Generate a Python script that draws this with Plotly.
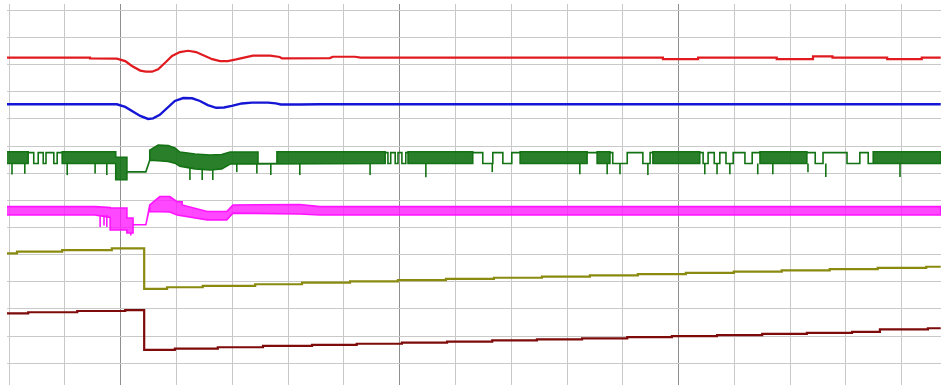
import plotly.graph_objects as go

# Time axis: one grid division per unit. Channel values are in grid divisions,
# measured from each channel's own resting level (positive = up).

# --- Channel 1 (red) ---
red_t = [-0.04, 1.45, 1.45, 1.93, 2.08, 2.20, 2.35, 2.45, 2.56, 2.67, 2.79, 2.92,
         3.06, 3.21, 3.35, 3.49, 3.64, 3.78, 3.92, 4.07, 4.23, 4.37, 4.68, 4.85,
         4.89, 5.57, 5.75, 5.80, 6.20, 6.30, 11.72, 11.72, 12.35, 12.35, 13.76,
         13.76, 14.41, 14.41, 14.76, 14.76, 15.74, 15.74, 16.36, 16.36, 16.70]
red_v = [0, 0, -0.03, -0.04, -0.13, -0.31, -0.48, -0.52, -0.52, -0.43, -0.20, 0.06,
         0.20, 0.25, 0.20, 0.07, -0.06, -0.13, -0.13, -0.07, 0.02, 0.07, 0.07, 0.02,
         -0.03, -0.02, -0.02, 0.03, 0.03, 0, 0, -0.06, -0.06, 0, 0,
         -0.06, -0.06, 0.04, 0.04, 0, 0, -0.06, -0.06, 0, 0]

# --- Channel 2 (blue) ---
blue_t = [-0.04, 1.93, 2.08, 2.20, 2.35, 2.49, 2.58, 2.70, 2.83, 2.97, 3.12, 3.28,
          3.42, 3.56, 3.71, 3.85, 3.99, 4.17, 4.35, 4.64, 4.78, 4.87, 5.21, 5.57, 16.70]
blue_v = [0, 0, -0.10, -0.25, -0.43, -0.54, -0.52, -0.39, -0.14, 0.12, 0.23, 0.22,
          0.12, -0.03, -0.13, -0.12, -0.06, 0.03, 0.06, 0.06, 0.03, -0.01, -0.01, 0, 0]

# --- Channel 3 (green): upper / lower envelope of the switching signal ---
green_t = [-0.04, 0.34, 0.34, 0.44, 0.44, 0.52, 0.52, 0.61, 0.61, 0.66, 0.66, 0.80,
           0.80, 0.86, 0.86, 0.95, 0.95, 1.91, 1.91, 2.11, 2.11, 2.45, 2.52, 2.52,
           2.67, 2.85, 2.97, 3.06, 3.33, 3.60, 3.81, 3.96, 4.44, 4.46, 4.46, 4.80,
           4.80, 6.74, 6.74, 6.79, 6.79, 6.84, 6.84, 6.92, 6.92, 6.97, 6.97, 7.04,
           7.04, 7.11, 7.11, 7.15, 7.15, 8.31, 8.31, 8.49, 8.49, 8.67, 8.67, 8.85,
           8.85, 9.01, 9.01, 9.16, 9.16, 10.36, 10.36, 10.54, 10.54, 10.77, 10.77, 10.82,
           10.82, 11.08, 11.08, 11.36, 11.36, 11.49, 11.49, 11.54, 11.54, 12.38, 12.38, 12.44,
           12.44, 12.53, 12.53, 12.64, 12.64, 12.74, 12.74, 12.85, 12.85, 12.98, 12.98, 13.19,
           13.19, 13.32, 13.32, 13.46, 13.46, 14.30, 14.30, 14.45, 14.45, 14.59, 14.59, 15.02,
           15.02, 15.25, 15.25, 15.40, 15.40, 15.49, 15.49, 16.70]
green_hi = [0.03, 0.03, 0, 0, -0.40, -0.40, 0, 0, -0.40, -0.40, 0, 0,
            -0.40, -0.40, 0, 0, 0.03, 0.03, -0.17, -0.17, -0.71, -0.71, -0.28, 0.09,
            0.28, 0.26, 0.17, 0.02, -0.05, -0.09, -0.07, 0.02, 0.02, 0.02, -0.40, -0.40,
            0.03, 0.03, 0, 0, -0.40, -0.40, 0, 0, -0.40, -0.40, 0, 0,
            -0.40, -0.40, 0, 0, 0.03, 0.03, 0, 0, -0.40, -0.40, 0, 0,
            -0.40, -0.40, 0, 0, 0.03, 0.03, 0, 0, 0.03, 0.03, 0, 0,
            -0.40, -0.40, 0, 0, -0.40, -0.40, 0, 0, 0.03, 0.03, 0, 0,
            -0.40, -0.40, 0, 0, -0.40, -0.40, 0, 0, -0.40, -0.40, 0, 0,
            -0.40, -0.40, 0, 0, 0.03, 0.03, 0, 0, -0.40, -0.40, 0, 0,
            -0.40, -0.40, 0, 0, -0.40, -0.40, 0.03, 0.03]
green_lo = [-0.40, -0.40, 0, 0, -0.40, -0.40, 0, 0, -0.40, -0.40, 0, 0,
            -0.40, -0.40, 0, 0, -0.40, -0.40, -1.00, -1.00, -0.71, -0.71, -0.28, -0.28,
            -0.30, -0.33, -0.39, -0.50, -0.60, -0.64, -0.60, -0.42, -0.40, -0.40, -0.40, -0.40,
            -0.40, -0.40, 0, 0, -0.40, -0.40, 0, 0, -0.40, -0.40, 0, 0,
            -0.40, -0.40, 0, 0, -0.40, -0.40, 0, 0, -0.40, -0.40, 0, 0,
            -0.40, -0.40, 0, 0, -0.40, -0.40, 0, 0, -0.40, -0.40, 0, 0,
            -0.40, -0.40, 0, 0, -0.40, -0.40, 0, 0, -0.40, -0.40, 0, 0,
            -0.40, -0.40, 0, 0, -0.40, -0.40, 0, 0, -0.40, -0.40, 0, 0,
            -0.40, -0.40, 0, 0, -0.40, -0.40, 0, 0, -0.40, -0.40, 0, 0,
            -0.40, -0.40, 0, 0, -0.40, -0.40, -0.40, -0.40]
green_spike_t = [0.05, 0.28, 1.04, 1.54, 1.75, 3.24, 3.46, 3.65, 4.08, 4.44, 4.69, 5.21,
                 6.47, 7.47, 8.66, 10.23, 10.72, 10.95, 11.45, 12.47, 12.69, 12.92,
                 13.42, 13.69, 14.32, 14.64, 15.97]
green_spike_top = [-0.40, -0.40, -0.40, -0.40, -0.40, -0.55, -0.60, -0.62, -0.40, -0.40,
                   -0.40, -0.40, -0.40, -0.40, -0.40, -0.40, -0.40, -0.40, -0.40, -0.40,
                   -0.40, -0.40, -0.40, -0.40, -0.40, -0.40, -0.40]
green_spike_low = [-0.81, -0.78, -0.83, -0.77, -0.83, -1.01, -1.01, -1.01, -0.72, -0.77,
                   -0.83, -0.83, -0.83, -0.91, -0.72, -0.80, -0.80, -0.80, -0.83, -0.80,
                   -0.80, -0.80, -0.80, -0.80, -0.72, -0.90, -0.90]

# --- Channel 4 (magenta): upper / lower envelope ---
mag_t = [-0.04, 1.54, 1.81, 1.81, 2.11, 2.11, 2.22, 2.22, 2.45, 2.52, 2.52, 2.70,
         2.88, 3.01, 3.10, 3.10, 3.55, 3.90, 4.01, 5.21, 5.57, 16.70]
mag_hi = [0, 0, -0.03, -0.05, -0.05, -0.42, -0.42, -0.67, -0.67, -0.01, 0.06, 0.37,
          0.37, 0.18, 0.18, 0.06, -0.18, -0.18, 0.06, 0.08, 0, 0]
mag_lo = [-0.31, -0.31, -0.40, -0.86, -0.86, -0.97, -0.97, -0.67, -0.67, -0.01, -0.18, -0.18,
          -0.20, -0.31, -0.33, -0.33, -0.49, -0.49, -0.24, -0.27, -0.31, -0.31]
mag_spike_t = [1.63, 1.70, 1.75, 2.18]
mag_spike_top = [-0.31, -0.31, -0.31, -0.97]
mag_spike_low = [-0.75, -0.70, -0.75, -1.06]

# --- Channel 5 (olive): stepped ramp ---
olive_t = [-0.04, 0.14, 0.95, 1.84, 2.42, 2.83, 3.47, 4.41, 5.25, 6.11, 6.97, 7.83,
           8.69, 9.55, 10.41, 11.27, 12.13, 12.99, 13.85, 14.71, 15.57, 16.44, 16.70]
olive_v = [0, 0.06, 0.12, 0.18, -1.31, -1.25, -1.20, -1.14, -1.08, -1.035, -0.99, -0.945,
           -0.90, -0.855, -0.81, -0.765, -0.72, -0.675, -0.63, -0.585, -0.54, -0.495, -0.495]

# --- Channel 6 (dark red): stepped ramp ---
maroon_t = [-0.04, 0.34, 1.22, 2.08, 2.42, 2.97, 3.74, 4.55, 5.43, 6.23, 7.04, 7.85,
            8.66, 9.46, 10.27, 11.08, 11.88, 12.69, 13.50, 14.30, 15.11, 15.61, 16.47, 16.70]
maroon_v = [0, 0.04, 0.085, 0.12, -1.35, -1.30, -1.25, -1.20, -1.16, -1.12, -1.08, -1.04,
            -1.00, -0.96, -0.92, -0.88, -0.84, -0.80, -0.76, -0.72, -0.68, -0.59, -0.55, -0.55]

# Resting level of each channel, in divisions below the top grid line
ROW = {"red": 1.74, "blue": 3.46, "green": 5.24, "mag": 7.23, "olive": 8.95, "maroon": 11.16}
COLOR = {"red": "#e01a1f", "blue": "#1515d6", "green": "#137213", "mag": "#ff14ff",
         "olive": "#8a8a10", "maroon": "#7e0a0a"}
# Dense switching shows as a mostly filled band between the two levels
BAND_FILL = {"green": "rgba(19,114,19,0.9)", "mag": "rgba(255,20,255,0.78)"}

fig = go.Figure()


def line(t, v, key, shape="linear", width=2.0):
    fig.add_trace(go.Scatter(x=t, y=[val - ROW[key] for val in v], mode="lines",
                             line=dict(color=COLOR[key], width=width, shape=shape),
                             hoverinfo="skip", showlegend=False))


def envelope(t, hi, lo, key):
    xs = list(t) + list(t)[::-1]
    ys = [h - ROW[key] for h in hi] + [l - ROW[key] for l in lo][::-1]
    fig.add_trace(go.Scatter(x=xs, y=ys, mode="lines", fill="toself",
                             fillcolor=BAND_FILL[key],
                             line=dict(color=COLOR[key], width=1.6),
                             hoverinfo="skip", showlegend=False))


def spikes(t, top, low, key):
    xs, ys = [], []
    for a, b, c in zip(t, top, low):
        xs += [a, a, None]
        ys += [b - ROW[key], c - ROW[key], None]
    fig.add_trace(go.Scatter(x=xs, y=ys, mode="lines",
                             line=dict(color=COLOR[key], width=1.6),
                             hoverinfo="skip", showlegend=False))


line(red_t, red_v, "red", width=2.2)
line(blue_t, blue_v, "blue", width=2.4)
envelope(green_t, green_hi, green_lo, "green")
spikes(green_spike_t, green_spike_top, green_spike_low, "green")
envelope(mag_t, mag_hi, mag_lo, "mag")
spikes(mag_spike_t, mag_spike_top, mag_spike_low, "mag")
line(olive_t, olive_v, "olive", shape="hv", width=2.2)
line(maroon_t, maroon_v, "maroon", shape="hv", width=2.2)

LIGHT_GRID = "#c9c9c9"
DARK_GRID = "#8e8e8e"

fig.update_layout(
    width=941, height=385,
    margin=dict(l=7, r=0, t=4, b=0, autoexpand=False),
    paper_bgcolor="white", plot_bgcolor="white",
    xaxis=dict(range=[-0.0394, 16.705], showticklabels=False, ticks="",
               zeroline=False, showline=False,
               showgrid=True, tick0=2, dtick=5, gridcolor=DARK_GRID, gridwidth=1,
               minor=dict(showgrid=True, tick0=0, dtick=1, gridcolor=LIGHT_GRID,
                          gridwidth=1, ticks="")),
    yaxis=dict(range=[-13.80, 0.232], showticklabels=False, ticks="",
               zeroline=False, showline=False,
               showgrid=True, tick0=0, dtick=1, gridcolor=LIGHT_GRID, gridwidth=1),
)

fig.write_html("out.html")
